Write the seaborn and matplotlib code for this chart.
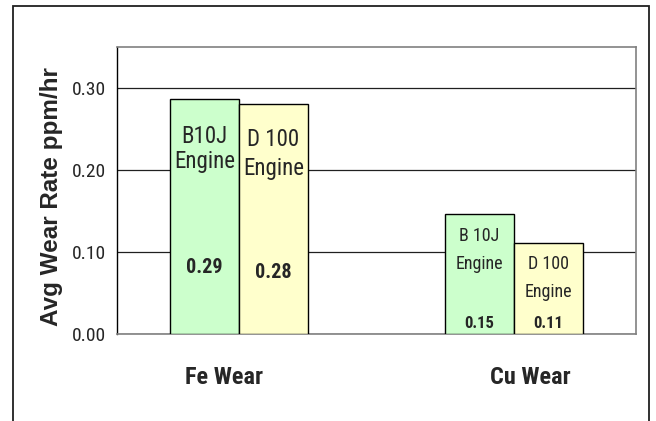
import matplotlib
matplotlib.use("Agg")
import matplotlib.pyplot as plt
import matplotlib.transforms as mtransforms
from matplotlib import font_manager
from matplotlib.patches import Rectangle
import pandas as pd
import seaborn as sns

# ---- data ----
categories = ["Fe Wear", "Cu Wear"]
engines = ["B10J Engine", "D 100 Engine"]
b10j_rates = [0.287, 0.146]
d100_rates = [0.280, 0.111]
bar_names = [["B10J\nEngine", "D 100\nEngine"],
             ["B 10J\nEngine", "D 100\nEngine"]]
y_ticks = [0.00, 0.10, 0.20, 0.30]

df = pd.DataFrame({
    "category": categories * 2,
    "engine": [engines[0]] * 2 + [engines[1]] * 2,
    "rate": b10j_rates + d100_rates,
})

sns.set_style("white")
available = {f.name for f in font_manager.fontManager.ttflist}
narrow = next((n for n in ["Liberation Sans Narrow", "Arial Narrow", "Roboto Condensed"]
               if n in available), "Liberation Sans")
plt.rcParams["font.family"] = [narrow, "DejaVu Sans"]

fig = plt.figure(figsize=(6.56, 4.21), dpi=100)
ax = fig.add_axes([117 / 656, 87 / 421, 519 / 656, 287 / 421])

palette = {engines[0]: "#CCFFCC", engines[1]: "#FFFFCC"}
sns.barplot(data=df, x="category", y="rate", hue="engine", order=categories,
            hue_order=engines, palette=palette, width=0.5, gap=0,
            edgecolor="black", linewidth=1.0, saturation=1, legend=False,
            zorder=3, ax=ax)

ax.set_xlim(-0.444, 1.444)
ax.set_ylim(0, 0.35)
ax.set_yticks(y_ticks)
ax.set_yticklabels([f"{t:.2f}" for t in y_ticks], fontsize=14)
ax.tick_params(axis="y", direction="out", length=6, width=1, color="black", pad=2)
ax.set_xticks([])
ax.set_xlabel("")
ax.set_ylabel("")
ax.yaxis.grid(True, color="#202020", linewidth=0.9, zorder=0)
ax.set_axisbelow(True)
for side in ["top", "right", "bottom"]:
    ax.spines[side].set_color("#808080")
    ax.spines[side].set_linewidth(1.2)
ax.spines["left"].set_color("black")
ax.spines["left"].set_linewidth(1.0)

# Text inside the bars: engine name and rounded value
name_size = [16.5, 13]
value_size = [14.5, 12]
name_y = [[0.2256, 0.2195], [0.1024, 0.0683]]
name_ls = [[1.1, 1.3], [1.65, 1.65]]
value_y = [[0.0817, 0.0744], [0.0134, 0.0134]]

bars = ax.patches
for h, rates in enumerate([b10j_rates, d100_rates]):
    for c in range(len(categories)):
        bar = bars[h * len(categories) + c]
        cx = bar.get_x() + bar.get_width() / 2
        ax.text(cx, name_y[c][h], bar_names[c][h], ha="center", va="center",
                fontsize=name_size[c], linespacing=name_ls[c][h], zorder=5)
        ax.text(cx, value_y[c][h], f"{rates[c]:.2f}", ha="center", va="center",
                fontsize=value_size[c], fontweight="bold", zorder=5)

# Category names under the groups
trans = mtransforms.blended_transform_factory(ax.transData, ax.transAxes)
for x, name in zip([-0.055, 1.058], categories):
    ax.text(x, -0.153, name, transform=trans, ha="center", va="center",
            fontsize=17.5, fontweight="bold")

fig.text(52 / 656, 1 - 197 / 421, "Avg Wear Rate ppm/hr", rotation=90,
         ha="center", va="center", fontsize=17.5, fontweight="bold",
         family=["Liberation Sans", "DejaVu Sans"])

# Chart frame
fig.patches.append(Rectangle((13 / 656, -0.05), 636 / 656, 1.05 - 6 / 421,
                             transform=fig.transFigure, fill=False,
                             edgecolor="#202020", linewidth=1.3))

fig.savefig("out.png", dpi=100)
